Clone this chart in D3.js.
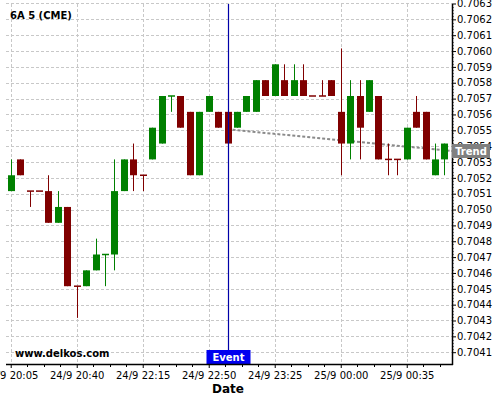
<!DOCTYPE html>
<html>
<head>
<meta charset="utf-8">
<script src="https://cdn.jsdelivr.net/npm/d3@7/dist/d3.min.js"></script>
<style>
  html, body { margin: 0; padding: 0; background: #fff; }
  svg { display: block; font-family: "DejaVu Sans", sans-serif; }
</style>
</head>
<body>
<svg id="chart" width="500" height="400"></svg>
<script>
// ---- data (5-minute candles, 6A CME) ----
const candleOpen  = [0.7051,0.7053,0.7051,0.7051,0.7051,0.7049,0.7050,0.7045,0.7045,0.7046,
                     0.7047,0.7047,0.7051,0.7053,0.7052,0.7053,0.7054,0.7057,0.7057,0.7056,
                     0.7052,0.7056,0.7056,0.7056,0.7055,0.7056,0.7056,0.7058,0.7057,0.7058,
                     0.7057,0.7058,0.7057,0.7057,0.7058,0.7056,0.7054,0.7057,0.7056,0.7057,
                     0.7053,0.7053,0.7053,0.7056,0.7056,0.7052,0.7053];
const candleHigh  = [0.7053,0.7053,0.7051,0.7051,0.7052,0.7051,0.7050,0.7045,0.7046,0.7048,
                     0.7047,0.7053,0.7053,0.7054,0.7052,0.7055,0.7057,0.7057,0.7057,0.7056,
                     0.7056,0.7057,0.7056,0.7056,0.7056,0.7057,0.7058,0.7058,0.7059,0.7059,
                     0.7059,0.7059,0.7057,0.7058,0.7058,0.7060,0.7058,0.7058,0.7058,0.7057,
                     0.7054,0.7053,0.7055,0.7057,0.7056,0.7054,0.7054];
const candleLow   = [0.7051,0.7052,0.7050,0.7051,0.7049,0.7049,0.7045,0.7043,0.7045,0.7046,
                     0.7045,0.7046,0.7051,0.7051,0.7051,0.7053,0.7054,0.7056,0.7055,0.7052,
                     0.7052,0.7056,0.7055,0.7054,0.7055,0.7056,0.7056,0.7057,0.7057,0.7057,
                     0.7057,0.7057,0.7057,0.7057,0.7057,0.7052,0.7053,0.7053,0.7056,0.7053,
                     0.7052,0.7052,0.7053,0.7055,0.7053,0.7052,0.7052];
const candleClose = [0.7052,0.7052,0.7051,0.7051,0.7049,0.7050,0.7045,0.7045,0.7046,0.7047,
                     0.7047,0.7051,0.7053,0.7052,0.7052,0.7055,0.7057,0.7057,0.7055,0.7052,
                     0.7056,0.7057,0.7055,0.7054,0.7056,0.7057,0.7058,0.7057,0.7059,0.7057,
                     0.7058,0.7057,0.7057,0.7057,0.7057,0.7054,0.7057,0.7055,0.7058,0.7053,
                     0.7053,0.7053,0.7055,0.7055,0.7053,0.7053,0.7054];
// candles with open == close that are drawn in the "up" colour
const upDojiIndex = [10, 17];

const xTickIndex  = [0, 7, 14, 21, 28, 35, 42];
const xTickLabels = ["24/9 20:05","24/9 20:40","24/9 22:15","24/9 22:50","24/9 23:25","25/9 00:00","25/9 00:35"];
const yTickLabels = ["0.7041","0.7042","0.7043","0.7044","0.7045","0.7046","0.7047","0.7048","0.7049","0.7050",
                     "0.7051","0.7052","0.7053","0.7054","0.7055","0.7056","0.7057","0.7058","0.7059","0.7060",
                     "0.7061","0.7062","0.7063"];
const yTickShift = 0.0000164;   // grid values sit slightly below the rounded labels

const eventIndex = 23;
const trendIndex = [23, 46.8];
const trendValue = [0.70549, 0.705353];

const titleText = "6A 5 (CME)";
const watermark = "www.delkos.com";
const xAxisTitle = "Date";

// ---- layout ----
const plot = { left: 6, right: 452, top: 4, bottom: 364 };
const upColor = "#008000", downColor = "#800000";

const svg = d3.select("#chart");
const x = d3.scaleLinear().domain([-0.5, 46.8]).range([plot.left, plot.right]);
const y = d3.scaleLinear().domain([0.70400915, 0.70628044]).range([plot.bottom, plot.top]);

const yTickValues = yTickLabels.map(l => +l - yTickShift);

// grid
const grid = svg.append("g").attr("stroke", "#c8c8c8").attr("stroke-dasharray", "3,2").attr("stroke-width", 1);
grid.selectAll("line.h").data(yTickValues).enter().append("line")
  .attr("x1", plot.left).attr("x2", plot.right)
  .attr("y1", d => Math.round(y(d)) + 0.5).attr("y2", d => Math.round(y(d)) + 0.5);
grid.selectAll("line.v").data(xTickIndex).enter().append("line")
  .attr("y1", plot.top).attr("y2", plot.bottom)
  .attr("x1", d => Math.round(x(d)) + 0.5).attr("x2", d => Math.round(x(d)) + 0.5);

// title & watermark
svg.append("text").attr("x", 10).attr("y", 19).attr("font-size", 10).attr("font-weight", "bold")
  .attr("fill", "#000").text(titleText);
svg.append("text").attr("x", 15).attr("y", 357).attr("font-size", 10).attr("font-weight", "bold")
  .attr("fill", "#000").text(watermark);

// trend line (behind candles)
svg.append("line")
  .attr("x1", x(trendIndex[0])).attr("y1", y(trendValue[0]))
  .attr("x2", x(trendIndex[1])).attr("y2", y(trendValue[1]))
  .attr("stroke", "#8a8a8a").attr("stroke-width", 2).attr("stroke-dasharray", "3,2");

// candles
const candles = candleOpen.map((o, i) => ({
  i, o, h: candleHigh[i], l: candleLow[i], c: candleClose[i],
  up: candleClose[i] > o || (candleClose[i] === o && upDojiIndex.includes(i))
}));
const cg = svg.append("g");
cg.selectAll("line.wick").data(candles).enter().append("line")
  .attr("x1", d => Math.round(x(d.i)) + 0.5).attr("x2", d => Math.round(x(d.i)) + 0.5)
  .attr("y1", d => y(d.h)).attr("y2", d => y(d.l))
  .attr("stroke", d => d.up ? upColor : downColor).attr("stroke-width", 1);
const bodyW = 7;
cg.selectAll("rect.body").data(candles).enter().append("rect")
  .attr("x", d => Math.round(x(d.i)) + 0.5 - bodyW / 2)
  .attr("width", bodyW)
  .attr("y", d => d.o === d.c ? y(d.o) - 0.75 : y(Math.max(d.o, d.c)))
  .attr("height", d => d.o === d.c ? 1.5 : Math.abs(y(d.o) - y(d.c)))
  .attr("fill", d => d.up ? upColor : downColor);

// event line
const ex = Math.round(x(eventIndex)) + 0.5;
svg.append("line").attr("x1", ex).attr("x2", ex).attr("y1", plot.top).attr("y2", plot.bottom)
  .attr("stroke", "#0000a8").attr("stroke-width", 1.2);
svg.append("rect").attr("x", ex - 22).attr("y", 350).attr("width", 44).attr("height", 14).attr("fill", "#0000f0");
svg.append("text").attr("x", ex).attr("y", 361).attr("text-anchor", "middle")
  .attr("font-size", 10).attr("font-weight", "bold").attr("fill", "#fff").text("Event");

// axes
const yAxisG = svg.append("g").attr("transform", `translate(${plot.right},0)`);
const yAxis = d3.axisRight(y).tickValues(yTickValues).tickSize(4).tickPadding(1)
  .tickFormat((d, k) => yTickLabels[k]);
yAxisG.call(yAxis);
yAxisG.select(".domain").remove();
yAxisG.selectAll(".tick text").attr("font-size", 10).attr("font-family", "DejaVu Sans").attr("fill", "#000");
// y minor ticks
const yMinor = [];
yTickValues.forEach((v, k) => { if (k < yTickValues.length - 1) for (let m = 1; m < 5; m++) yMinor.push(v + m * 0.00002); });
yAxisG.selectAll("line.minor").data(yMinor).enter().append("line")
  .attr("x1", 0).attr("x2", 2).attr("y1", d => Math.round(y(d)) + 0.5).attr("y2", d => Math.round(y(d)) + 0.5)
  .attr("stroke", "#888");
yAxisG.append("line").attr("x1", 0.5).attr("x2", 0.5).attr("y1", plot.top).attr("y2", plot.bottom + 1)
  .attr("stroke", "#000").attr("stroke-width", 1.5);

const xAxisG = svg.append("g").attr("transform", `translate(0,${plot.bottom})`);
const xAxis = d3.axisBottom(x).tickValues(xTickIndex).tickSize(4).tickPadding(4)
  .tickFormat((d, k) => xTickLabels[k]);
xAxisG.call(xAxis);
xAxisG.select(".domain").remove();
xAxisG.selectAll(".tick text").attr("font-size", 10).attr("font-family", "DejaVu Sans").attr("fill", "#000");
const xMinor = [];
xTickIndex.forEach(t => { for (let m = 1; m < 4; m++) xMinor.push(t + m * 1.75); });
xAxisG.selectAll("line.minor").data(xMinor.filter(d => x(d) > plot.left && x(d) < plot.right)).enter().append("line")
  .attr("y1", 0).attr("y2", 3).attr("x1", d => Math.round(x(d)) + 0.5).attr("x2", d => Math.round(x(d)) + 0.5)
  .attr("stroke", "#000");
xAxisG.append("line").attr("x1", plot.left).attr("x2", plot.right + 1).attr("y1", 0.5).attr("y2", 0.5)
  .attr("stroke", "#000").attr("stroke-width", 1.5);

svg.append("text").attr("x", 228).attr("y", 393).attr("text-anchor", "middle")
  .attr("font-size", 12).attr("font-weight", "bold").attr("fill", "#000").text(xAxisTitle);

// trend label
const ty = y(trendValue[1]);
svg.append("rect").attr("x", 452).attr("y", ty - 7).attr("width", 38).attr("height", 14).attr("fill", "#808080");
svg.append("text").attr("x", 471).attr("y", ty + 4).attr("text-anchor", "middle")
  .attr("font-size", 10).attr("font-weight", "bold").attr("fill", "#fff").text("Trend");
</script>
</body>
</html>
